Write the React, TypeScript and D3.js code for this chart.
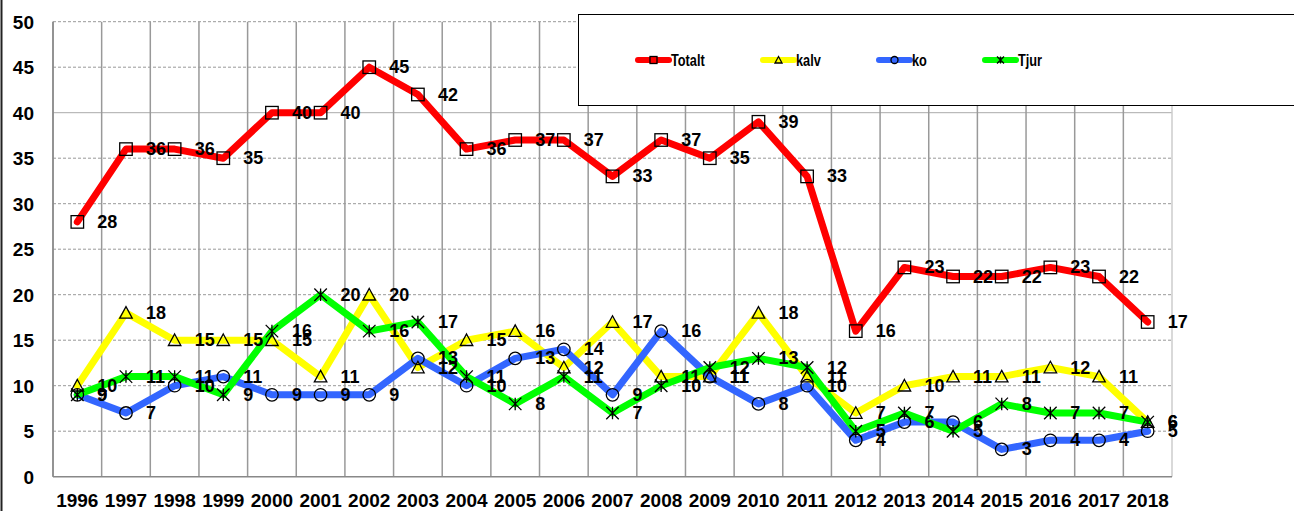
import React from "react";
import * as d3 from "d3";

const years = ["1996","1997","1998","1999","2000","2001","2002","2003","2004","2005","2006","2007","2008","2009","2010","2011","2012","2013","2014","2015","2016","2017","2018"];
const totalt = [28,36,36,35,40,40,45,42,36,37,37,33,37,35,39,33,16,23,22,22,23,22,17];
const kalv = [10,18,15,15,15,11,20,12,15,16,12,17,11,11,18,11,7,10,11,11,12,11,6];
const ko = [9,7,10,11,9,9,9,13,10,13,14,9,16,11,8,10,4,6,6,3,4,4,5];
const tjur = [9,11,11,9,16,20,16,17,11,8,11,7,10,12,13,12,5,7,5,8,7,7,6];
const yTicks = [0,5,10,15,20,25,30,35,40,45,50];

const series = [
  { name: "Totalt", values: totalt, color: "#FF0000", marker: "square" },
  { name: "kalv", values: kalv, color: "#FFFF00", marker: "triangle" },
  { name: "ko", values: ko, color: "#3366FF", marker: "circle" },
  { name: "Tjur", values: tjur, color: "#00FF00", marker: "star" },
];

const W = 1294, H = 511;
const left = 53, right = 1172, top = 21.7, bottom = 476.7;
const font = "Arial, 'Liberation Sans', sans-serif";

function Marker({ type, x, y, s }: { type: string; x: number; y: number; s: number }) {
  const h = s / 2;
  const common = { fill: "none", stroke: "#000", strokeWidth: 1.3 };
  if (type === "square") return <rect x={x - h} y={y - h} width={s} height={s} {...common} />;
  if (type === "circle") return <circle cx={x} cy={y} r={h} {...common} />;
  if (type === "triangle")
    return <path d={`M${x},${y - h}L${x + h},${y + h * 0.85}L${x - h},${y + h * 0.85}Z`} {...common} />;
  return (
    <path
      d={`M${x - h},${y - h}L${x + h},${y + h}M${x - h},${y + h}L${x + h},${y - h}M${x},${y - h}L${x},${y + h}`}
      {...common}
    />
  );
}

export default function App() {
  const x = d3.scaleBand().domain(years).range([left, right]);
  const bw = x.bandwidth();
  const cx = (d: string) => (x(d) as number) + bw / 2;
  const y = d3.scaleLinear().domain([0, 50]).range([bottom, top]);
  const line = d3
    .line<number>()
    .x((_, i) => cx(years[i]))
    .y((v) => y(v));

  const legendX = [638, 763, 879, 985];

  return (
    <svg width={W} height={H} style={{ position: "absolute", left: 0, top: 0, background: "#fff" }}>
      <rect x={0} y={0} width={W} height={H} fill="#fff" />
      <line x1={1.5} x2={1.5} y1={0} y2={H} stroke="#222" strokeWidth={2} />
      {/* horizontal grid */}
      {yTicks.filter((t) => t > 0).map((t) => (
        <line
          key={"h" + t}
          x1={left}
          x2={right}
          y1={y(t)}
          y2={y(t)}
          stroke={t === 40 ? "#aaa" : "#999"}
          strokeWidth={1}
          strokeDasharray={t === 40 ? undefined : "3,2"}
        />
      ))}
      {/* vertical grid */}
      {years.map((yr) => (
        <line key={"v" + yr} x1={x(yr)} x2={x(yr)} y1={top} y2={bottom} stroke="#999" strokeWidth={1.5} />
      ))}
      <line x1={right} x2={right} y1={top} y2={bottom} stroke="#ccc" strokeWidth={1.5} />
      <line x1={left} x2={left} y1={top} y2={bottom} stroke="#888" strokeWidth={1.5} />
      <line x1={left} x2={right} y1={bottom} y2={bottom} stroke="#888" strokeWidth={1.5} />
      {/* y tick labels */}
      {yTicks.map((t) => (
        <text key={"yt" + t} x={34} y={y(t) + 7} textAnchor="end" fontFamily={font} fontWeight="bold" fontSize={19}>
          {t}
        </text>
      ))}
      {/* x tick labels */}
      {years.map((yr) => (
        <text key={"xt" + yr} x={cx(yr)} y={507} textAnchor="middle" fontFamily={font} fontWeight="bold" fontSize={19}>
          {yr}
        </text>
      ))}
      {/* lines */}
      {series.map((s) => (
        <path
          key={"l" + s.name}
          d={line(s.values) || ""}
          fill="none"
          stroke={s.color}
          strokeWidth={7}
          strokeLinejoin="round"
          strokeLinecap="round"
        />
      ))}
      {/* markers */}
      {series.map((s) =>
        s.values.map((v, i) => <Marker key={s.name + "m" + i} type={s.marker} x={cx(years[i])} y={y(v)} s={12.5} />)
      )}
      {/* value labels */}
      {series.map((s) =>
        s.values.map((v, i) => (
          <text
            key={s.name + "t" + i}
            x={cx(years[i]) + 20}
            y={y(v) + 6}
            fontFamily={font}
            fontWeight="bold"
            fontSize={18}
          >
            {v}
          </text>
        ))
      )}
      {/* legend */}
      <rect x={578.5} y={14.5} width={730} height={91} fill="#fff" stroke="#000" strokeWidth={1} />
      {series.map((s, i) => (
        <g key={"lg" + s.name}>
          <line x1={legendX[i]} x2={legendX[i] + 31} y1={60} y2={60} stroke={s.color} strokeWidth={6} strokeLinecap="round" />
          <Marker type={s.marker} x={legendX[i] + 15.5} y={60} s={7} />
          <text
            transform={`translate(${legendX[i] + 33},66) scale(0.75,1)`}
            fontFamily={font}
            fontWeight="bold"
            fontSize={17}
          >
            {s.name}
          </text>
        </g>
      ))}
    </svg>
  );
}
